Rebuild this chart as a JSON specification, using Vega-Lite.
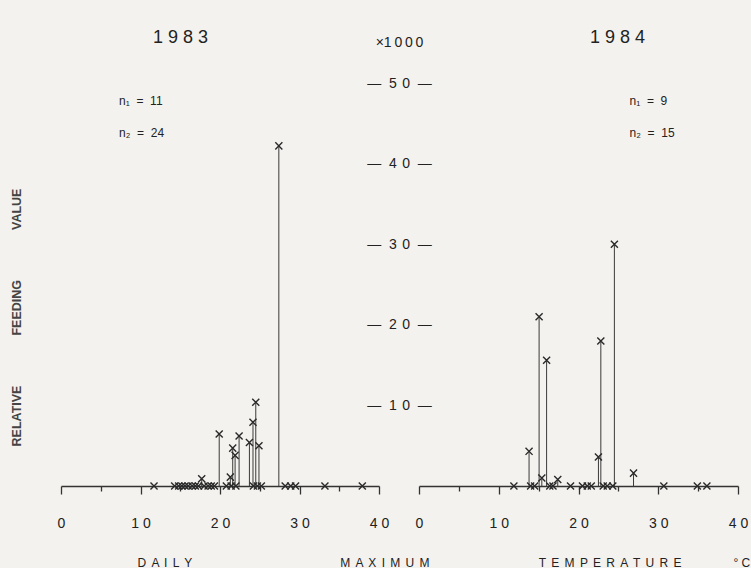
{
  "$schema": "https://vega.github.io/schema/vega-lite/v6.json",
  "background": "#f4f2ee",
  "padding": {"left": 10, "top": 29, "right": 0, "bottom": 0},
  "bounds": "flush",
  "spacing": 40,
  "config": {
    "view": {"stroke": null},
    "font": "Liberation Sans",
    "axis": {"grid": false, "labelColor": "#222", "titleColor": "#222", "labelFont": "Liberation Sans", "titleFont": "Liberation Sans"},
    "title": {"color": "#222", "font": "Liberation Sans"}
  },
  "data": {
    "values": [
      {"year": 1983, "temp": 17.7, "value": 0.9},
      {"year": 1983, "temp": 21.3, "value": 1.1},
      {"year": 1983, "temp": 19.9, "value": 6.45},
      {"year": 1983, "temp": 21.6, "value": 4.7},
      {"year": 1983, "temp": 21.9, "value": 3.8},
      {"year": 1983, "temp": 22.4, "value": 6.2},
      {"year": 1983, "temp": 23.7, "value": 5.4},
      {"year": 1983, "temp": 24.15, "value": 7.9},
      {"year": 1983, "temp": 24.5, "value": 10.4},
      {"year": 1983, "temp": 24.9, "value": 5.0},
      {"year": 1983, "temp": 27.4, "value": 42.2},
      {"year": 1983, "temp": 11.7, "value": 0},
      {"year": 1983, "temp": 14.3, "value": 0},
      {"year": 1983, "temp": 14.8, "value": 0},
      {"year": 1983, "temp": 15.2, "value": 0},
      {"year": 1983, "temp": 15.6, "value": 0},
      {"year": 1983, "temp": 16.0, "value": 0},
      {"year": 1983, "temp": 16.5, "value": 0},
      {"year": 1983, "temp": 16.9, "value": 0},
      {"year": 1983, "temp": 17.3, "value": 0},
      {"year": 1983, "temp": 18.0, "value": 0},
      {"year": 1983, "temp": 18.5, "value": 0},
      {"year": 1983, "temp": 18.9, "value": 0},
      {"year": 1983, "temp": 19.3, "value": 0},
      {"year": 1983, "temp": 20.8, "value": 0},
      {"year": 1983, "temp": 21.4, "value": 0},
      {"year": 1983, "temp": 22.0, "value": 0},
      {"year": 1983, "temp": 24.2, "value": 0},
      {"year": 1983, "temp": 24.7, "value": 0},
      {"year": 1983, "temp": 25.2, "value": 0},
      {"year": 1983, "temp": 28.2, "value": 0},
      {"year": 1983, "temp": 28.9, "value": 0},
      {"year": 1983, "temp": 29.5, "value": 0},
      {"year": 1983, "temp": 33.2, "value": 0},
      {"year": 1983, "temp": 37.9, "value": 0},
      {"year": 1984, "temp": 13.8, "value": 4.3},
      {"year": 1984, "temp": 15.06, "value": 21.0},
      {"year": 1984, "temp": 15.4, "value": 1.0},
      {"year": 1984, "temp": 16.0, "value": 15.6},
      {"year": 1984, "temp": 17.4, "value": 0.8},
      {"year": 1984, "temp": 22.5, "value": 3.6},
      {"year": 1984, "temp": 22.8, "value": 18.0},
      {"year": 1984, "temp": 24.5, "value": 30.0},
      {"year": 1984, "temp": 26.9, "value": 1.6},
      {"year": 1984, "temp": 11.9, "value": 0},
      {"year": 1984, "temp": 14.0, "value": 0},
      {"year": 1984, "temp": 14.5, "value": 0},
      {"year": 1984, "temp": 16.4, "value": 0},
      {"year": 1984, "temp": 16.8, "value": 0},
      {"year": 1984, "temp": 19.0, "value": 0},
      {"year": 1984, "temp": 20.5, "value": 0},
      {"year": 1984, "temp": 21.1, "value": 0},
      {"year": 1984, "temp": 21.6, "value": 0},
      {"year": 1984, "temp": 23.1, "value": 0},
      {"year": 1984, "temp": 23.6, "value": 0},
      {"year": 1984, "temp": 24.3, "value": 0},
      {"year": 1984, "temp": 30.7, "value": 0},
      {"year": 1984, "temp": 34.9, "value": 0},
      {"year": 1984, "temp": 36.1, "value": 0}
    ]
  },
  "hconcat": [
    {
      "width": 318,
      "height": 403,
      "title": {"text": "1 9 8 3", "anchor": "start", "frame": "group", "dx": 92, "fontSize": 18, "fontWeight": "normal", "offset": 36},
      "encoding": {
        "x": {
          "field": "temp", "type": "quantitative",
          "scale": {"domain": [0, 40], "nice": false, "zero": false},
          "axis": {
            "values": [0, 5, 10, 15, 20, 25, 30, 35, 40],
            "labelExpr": "datum.value % 10 ? '' : (datum.value == 0 ? '0' : (datum.value / 10) + ' 0')",
            "labelFontSize": 14, "labelPadding": 29, "labelBaseline": "middle", "labelFlush": false, "labelOverlap": false,
            "tickSize": {"condition": {"test": "datum.value % 10 === 0", "value": 8}, "value": 5},
            "tickColor": "#333", "tickWidth": 1.3, "domainColor": "#333", "domainWidth": 1.5,
            "title": "D \u2006A \u2006I \u2006L \u2006Y\u2003\u2003\u2003\u2003\u2003\u2003\u2003\u2003\u2003\u2003\u2003\u2003\u2006\u2006M \u2006A \u2006X \u2006I \u2006M \u2006U \u2006M",
            "titleFontSize": 12, "titleFontWeight": "normal", "titleX": 222, "titleY": 76, "titleAlign": "center", "titleBaseline": "middle"
          }
        },
        "y": {
          "field": "value", "type": "quantitative",
          "scale": {"domain": [0, 50], "nice": false},
          "axis": {
            "labels": false, "ticks": false, "domain": false,
            "title": "RELATIVE\u2003\u2003\u2003\u2003FEEDING\u2003\u2003\u2003\u2003VALUE",
            "titleFontSize": 12.5, "titleFontWeight": "bold", "titleColor": "#444",
            "titleX": -45, "titleY": 234, "titleAlign": "center", "titleBaseline": "middle"
          }
        }
      },
      "layer": [
        {
          "transform": [{"filter": "datum.year == 1983 && datum.value > 0"}],
          "mark": {"type": "rule", "color": "#3a3a3a", "strokeWidth": 1},
          "encoding": {"y2": {"datum": 0}}
        },
        {
          "transform": [{"filter": "datum.year == 1983"}],
          "mark": {"type": "point", "shape": "M-1,-1L1,1M-1,1L1,-1", "filled": false, "size": 50, "strokeWidth": 1.4, "color": "#2a2a2a", "opacity": 1}
        },
        {
          "transform": [{"filter": "datum.year == 1983 && datum.temp == 27.4"}],
          "mark": {"type": "text", "align": "left", "baseline": "middle", "fontSize": 12, "color": "#222", "text": "n₁ \u00a0= \u00a011"},
          "encoding": {"x": {"datum": 7.3}, "y": {"datum": 47.8}}
        },
        {
          "transform": [{"filter": "datum.year == 1983 && datum.temp == 27.4"}],
          "mark": {"type": "text", "align": "left", "baseline": "middle", "fontSize": 12, "color": "#222", "text": "n₂ \u00a0= \u00a024"},
          "encoding": {"x": {"datum": 7.3}, "y": {"datum": 43.8}}
        }
      ]
    },
    {
      "width": 319,
      "height": 403,
      "title": {"text": "1 9 8 4", "anchor": "start", "frame": "group", "dx": 171, "fontSize": 18, "fontWeight": "normal", "offset": -12},
      "encoding": {
        "x": {
          "field": "temp", "type": "quantitative",
          "scale": {"domain": [0, 40], "nice": false, "zero": false},
          "axis": {
            "values": [0, 5, 10, 15, 20, 25, 30, 35, 40],
            "labelExpr": "datum.value % 10 ? '' : (datum.value == 0 ? '0' : (datum.value / 10) + ' 0')",
            "labelFontSize": 14, "labelPadding": 29, "labelBaseline": "middle", "labelFlush": false, "labelOverlap": false,
            "tickSize": {"condition": {"test": "datum.value % 10 === 0", "value": 8}, "value": 5},
            "tickColor": "#333", "tickWidth": 1.3, "domainColor": "#333", "domainWidth": 1.5,
            "title": "T \u2006E \u2006M \u2006P \u2006E \u2006R \u2006A \u2006T \u2006U \u2006R \u2006E\u2003\u2003\u2003\u2003\u2006\u2006° C",
            "titleFontSize": 12, "titleFontWeight": "normal", "titleX": 225, "titleY": 76, "titleAlign": "center", "titleBaseline": "middle"
          }
        },
        "y": {
          "field": "value", "type": "quantitative",
          "scale": {"domain": [0, 50], "nice": false},
          "axis": {
            "values": [0, 10, 20, 30, 40, 50],
            "labelExpr": "datum.value == 0 ? '' : '—\u00a0\u00a0' + (datum.value / 10) + '\u2009\u20090\u00a0\u00a0—'",
            "labelFontSize": 14, "labelAlign": "center", "labelBaseline": "middle", "labelPadding": 20,
            "ticks": false, "domain": false,
            "title": "×1\u20090\u20090\u20090", "titleAngle": 0, "titleFontSize": 14, "titleFontWeight": "normal",
            "titleX": -20, "titleY": -41, "titleAlign": "center", "titleBaseline": "middle"
          }
        }
      },
      "layer": [
        {
          "transform": [{"filter": "datum.year == 1984 && datum.value > 0"}],
          "mark": {"type": "rule", "color": "#3a3a3a", "strokeWidth": 1},
          "encoding": {"y2": {"datum": 0}}
        },
        {
          "transform": [{"filter": "datum.year == 1984"}],
          "mark": {"type": "point", "shape": "M-1,-1L1,1M-1,1L1,-1", "filled": false, "size": 50, "strokeWidth": 1.4, "color": "#2a2a2a", "opacity": 1}
        },
        {
          "transform": [{"filter": "datum.year == 1984 && datum.temp == 24.5"}],
          "mark": {"type": "text", "align": "left", "baseline": "middle", "fontSize": 12, "color": "#222", "text": "n₁ \u00a0= \u00a09"},
          "encoding": {"x": {"datum": 26.4}, "y": {"datum": 47.8}}
        },
        {
          "transform": [{"filter": "datum.year == 1984 && datum.temp == 24.5"}],
          "mark": {"type": "text", "align": "left", "baseline": "middle", "fontSize": 12, "color": "#222", "text": "n₂ \u00a0= \u00a015"},
          "encoding": {"x": {"datum": 26.4}, "y": {"datum": 43.8}}
        }
      ]
    }
  ]
}
